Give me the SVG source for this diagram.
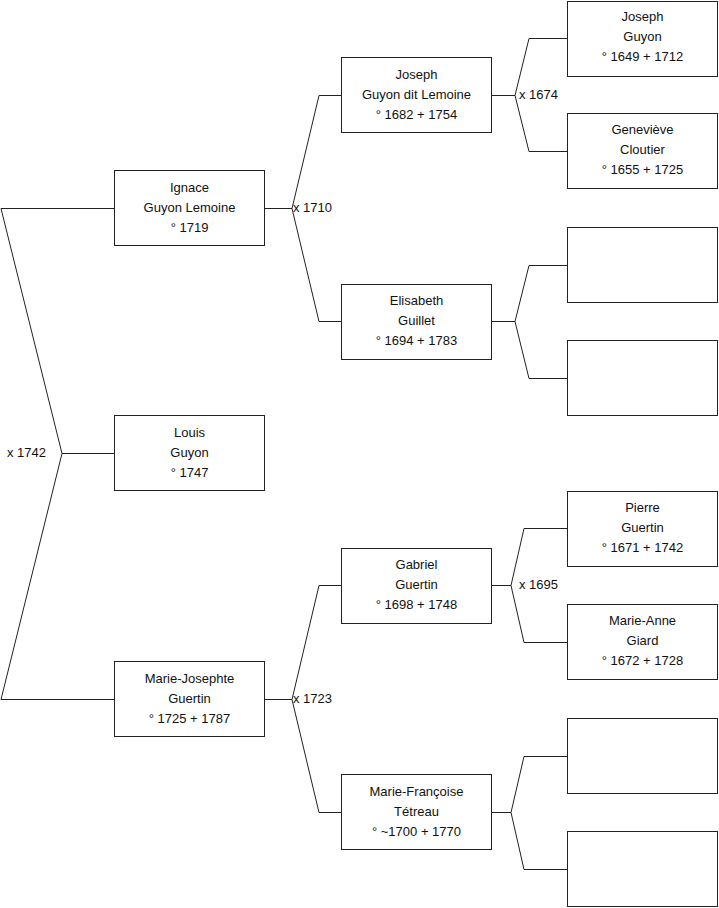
<svg xmlns="http://www.w3.org/2000/svg" width="719" height="908" viewBox="0 0 719 908">
<style>
rect{fill:#fff;stroke:#222;stroke-width:1}
.c{fill:none;stroke:#222;stroke-width:1}
text{font-family:"Liberation Sans",Arial,sans-serif;font-size:13px;fill:#111}
.n text{text-anchor:middle}
</style>
<rect x="0" y="0" width="719" height="908" style="stroke:none"/>
<g id="connectors" class="c">
<path d="M1,208.5H114 M1,208.5L62,453.5 M1,699.5H114 M1,699.5L62,453.5 M62,453.5H114"/>
<path d="M265,208.5H292 L319,95.5H341 M292,208.5L319,321.5H341"/>
<path d="M265,699.5H292 L319,585.5H341 M292,699.5L319,812.5H341"/>
<path d="M492,95.5H515 L529,38.5H567 M515,95.5L529,151.5H567"/>
<path d="M492,321.5H515 L529,265.5H567 M515,321.5L529,378.5H567"/>
<path d="M492,585.5H511 L524,528.5H567 M511,585.5L524,642.5H567"/>
<path d="M492,812.5H511 L524,756.5H567 M511,812.5L524,869.5H567"/>
</g>
<g id="labels">
<text x="7" y="457">x 1742</text>
<text x="293" y="212">x 1710</text>
<text x="293" y="703">x 1723</text>
<text x="519" y="99">x 1674</text>
<text x="519" y="589">x 1695</text>
</g>
<g id="ignace" class="n"><rect x="114.5" y="170.5" width="150" height="75"/><text x="189.5" y="192">Ignace</text><text x="189.5" y="212">Guyon Lemoine</text><text x="189.5" y="232">° 1719</text></g>
<g id="louis" class="n"><rect x="114.5" y="415.5" width="150" height="75"/><text x="189.5" y="437">Louis</text><text x="189.5" y="457">Guyon</text><text x="189.5" y="477">° 1747</text></g>
<g id="mariejosephte" class="n"><rect x="114.5" y="661.5" width="150" height="75"/><text x="189.5" y="683">Marie-Josephte</text><text x="189.5" y="703">Guertin</text><text x="189.5" y="723">° 1725 + 1787</text></g>
<g id="joseph1682" class="n"><rect x="341.5" y="57.5" width="150" height="75"/><text x="416.5" y="79">Joseph</text><text x="416.5" y="99">Guyon dit Lemoine</text><text x="416.5" y="119">° 1682 + 1754</text></g>
<g id="elisabeth" class="n"><rect x="341.5" y="284.5" width="150" height="75"/><text x="416.5" y="305">Elisabeth</text><text x="416.5" y="325">Guillet</text><text x="416.5" y="345">° 1694 + 1783</text></g>
<g id="gabriel" class="n"><rect x="341.5" y="548.5" width="150" height="75"/><text x="416.5" y="569">Gabriel</text><text x="416.5" y="589">Guertin</text><text x="416.5" y="609">° 1698 + 1748</text></g>
<g id="mariefrancoise" class="n"><rect x="341.5" y="774.5" width="150" height="75"/><text x="416.5" y="796">Marie-Françoise</text><text x="416.5" y="816">Tétreau</text><text x="416.5" y="836">° ~1700 + 1770</text></g>
<g id="joseph1649" class="n"><rect x="567.5" y="1.5" width="150" height="75"/><text x="642.5" y="21">Joseph</text><text x="642.5" y="41">Guyon</text><text x="642.5" y="61">° 1649 + 1712</text></g>
<g id="genevieve" class="n"><rect x="567.5" y="113.5" width="150" height="75"/><text x="642.5" y="134">Geneviève</text><text x="642.5" y="154">Cloutier</text><text x="642.5" y="174">° 1655 + 1725</text></g>
<g id="empty1" class="n"><rect x="567.5" y="227.5" width="150" height="75"/></g>
<g id="empty2" class="n"><rect x="567.5" y="340.5" width="150" height="75"/></g>
<g id="pierre" class="n"><rect x="567.5" y="491.5" width="150" height="75"/><text x="642.5" y="512">Pierre</text><text x="642.5" y="532">Guertin</text><text x="642.5" y="552">° 1671 + 1742</text></g>
<g id="marieanne" class="n"><rect x="567.5" y="604.5" width="150" height="75"/><text x="642.5" y="625">Marie-Anne</text><text x="642.5" y="645">Giard</text><text x="642.5" y="665">° 1672 + 1728</text></g>
<g id="empty3" class="n"><rect x="567.5" y="718.5" width="150" height="75"/></g>
<g id="empty4" class="n"><rect x="567.5" y="831.5" width="150" height="75"/></g>
</svg>
